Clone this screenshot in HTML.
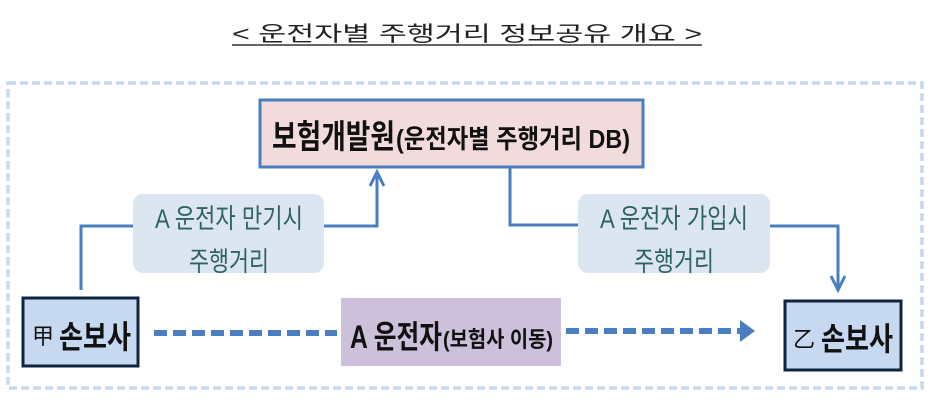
<!DOCTYPE html>
<html><head><meta charset="utf-8"><style>
html,body{margin:0;padding:0;background:#fff;}
svg{display:block}
text{font-family:"Liberation Sans","Noto Sans CJK KR",sans-serif;}
</style></head><body>
<svg width="941" height="404" viewBox="0 0 941 404" xmlns="http://www.w3.org/2000/svg">
<text x="232" y="41" font-size="21" fill="#222" textLength="470" lengthAdjust="spacingAndGlyphs">&lt; 운전자별 주행거리 정보공유 개요 &gt;</text>
<line x1="232" y1="45" x2="702" y2="45" stroke="#333" stroke-width="1.5"/>
<rect x="8" y="83" width="914" height="305" fill="none" stroke="#c6d9f0" stroke-width="3.5" stroke-dasharray="8,4"/>
<polyline points="81,290 81,226 133,226" fill="none" stroke="#4a7ebf" stroke-width="3"/>
<polyline points="324,226 377,226 377,176" fill="none" stroke="#4a7ebf" stroke-width="3"/>
<polyline points="370,186 377,172 384,186" fill="none" stroke="#4a7ebf" stroke-width="3"/>
<polyline points="510,168 510,225 578,225" fill="none" stroke="#4a7ebf" stroke-width="3"/>
<polyline points="770,226 838,226 838,288" fill="none" stroke="#4a7ebf" stroke-width="3"/>
<polyline points="831,276 838,290 845,276" fill="none" stroke="#4a7ebf" stroke-width="3"/>
<rect x="260" y="100" width="383" height="67" fill="#f2dcdb" stroke="#4a7ebf" stroke-width="3"/>
<text x="272" y="148" font-size="33" font-weight="bold" fill="#111" textLength="123" lengthAdjust="spacingAndGlyphs">보험개발원</text>
<text x="396" y="148" font-size="26" font-weight="bold" fill="#111" textLength="234" lengthAdjust="spacingAndGlyphs">(운전자별 주행거리 DB)</text>
<rect x="133" y="194" width="191" height="79" rx="10" fill="#dce6f1"/>
<text x="155" y="228" font-size="27" fill="#2f6360" textLength="148" lengthAdjust="spacingAndGlyphs">A 운전자 만기시</text>
<text x="189" y="271" font-size="27" fill="#2f6360" textLength="80" lengthAdjust="spacingAndGlyphs">주행거리</text>
<rect x="578" y="194" width="192" height="79" rx="10" fill="#dce6f1"/>
<text x="600" y="228" font-size="27" fill="#2f6360" textLength="148" lengthAdjust="spacingAndGlyphs">A 운전자 가입시</text>
<text x="634" y="271" font-size="27" fill="#2f6360" textLength="80" lengthAdjust="spacingAndGlyphs">주행거리</text>
<rect x="23" y="298" width="115" height="68" fill="#c6d9f0" stroke="#0f243e" stroke-width="3"/>
<text x="32" y="344" font-size="22" fill="#111">甲</text>
<text x="59" y="348" font-size="32" font-weight="bold" fill="#111" textLength="72" lengthAdjust="spacingAndGlyphs">손보사</text>
<rect x="785" y="301" width="116" height="69" fill="#c6d9f0" stroke="#0f243e" stroke-width="3"/>
<text x="793" y="347" font-size="22" fill="#111">乙</text>
<text x="821" y="350" font-size="32" font-weight="bold" fill="#111" textLength="72" lengthAdjust="spacingAndGlyphs">손보사</text>
<rect x="341" y="298" width="220" height="68" fill="#ccc0da"/>
<text x="350" y="348" font-size="32" font-weight="bold" fill="#111" textLength="92" lengthAdjust="spacingAndGlyphs">A 운전자</text>
<text x="443" y="347" font-size="22" font-weight="bold" fill="#111" textLength="110" lengthAdjust="spacingAndGlyphs">(보험사 이동)</text>
<line x1="154" y1="333" x2="337" y2="333" stroke="#4a7ebf" stroke-width="6" stroke-dasharray="13,6"/>
<line x1="566" y1="331" x2="742" y2="331" stroke="#4a7ebf" stroke-width="6" stroke-dasharray="13,6"/>
<polygon points="740,320 755,331 740,342" fill="#4a7ebf"/>
</svg>
</body></html>
